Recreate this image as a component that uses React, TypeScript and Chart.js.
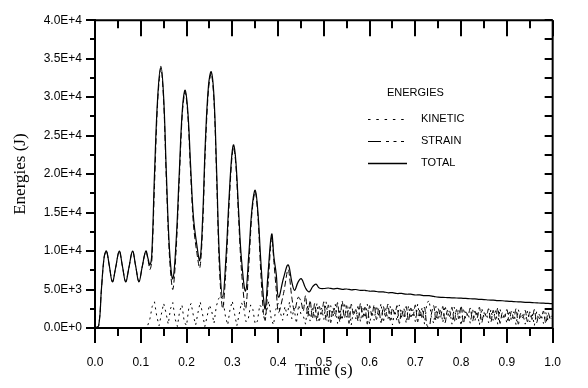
import React, { useEffect, useRef } from "react";
import { Chart, registerables } from "chart.js";

Chart.register(...registerables);

// ---------- data ----------
const TOTAL_T = [
  0.0, 0.008, 0.014, 0.02, 0.025, 0.031, 0.038, 0.045, 0.053, 0.06, 0.067, 0.074, 0.082, 0.089, 0.096,
  0.103, 0.111, 0.116, 0.12, 0.124, 0.13, 0.137, 0.144, 0.15, 0.156, 0.163, 0.17, 0.177, 0.184, 0.191,
  0.197, 0.203, 0.209, 0.215, 0.222, 0.229, 0.235, 0.241, 0.248, 0.254, 0.26, 0.266, 0.272, 0.279,
  0.286, 0.293, 0.299, 0.303, 0.308, 0.314, 0.32, 0.329, 0.336, 0.343, 0.35, 0.356, 0.362, 0.368,
  0.372, 0.378, 0.386, 0.391, 0.396, 0.401, 0.412, 0.422, 0.43, 0.436, 0.444, 0.451, 0.46, 0.468,
  0.476, 0.483, 0.49,
  0.5, 0.51, 0.52, 0.53, 0.54, 0.55, 0.56, 0.57, 0.58, 0.59, 0.6, 0.61, 0.62, 0.63, 0.64, 0.65, 0.66,
  0.67, 0.68, 0.69, 0.7, 0.71, 0.72, 0.73, 0.74, 0.75, 0.76, 0.77, 0.78, 0.79, 0.8, 0.81, 0.82, 0.83,
  0.84, 0.85, 0.86, 0.87, 0.88, 0.89, 0.9, 0.91, 0.92, 0.93, 0.94, 0.95, 0.96, 0.97, 0.98, 0.99, 1.0,
];
const TOTAL_E = [
  0, 300, 5000, 9200, 10000, 8200, 6000, 7800, 10000, 8000, 6000, 7800, 10000, 8000, 6000,
  7900, 10000, 9000, 8200, 9500, 20000, 30000, 34000, 30000, 20000, 10000, 6400, 11000, 20000, 28500,
  30900, 28000, 21000, 14500, 11000, 8800, 14000, 24000, 31500, 33300, 30000, 20000, 9000, 4000,
  9000, 17000, 22500, 23800, 21500, 15000, 9000, 4800, 9500, 15500, 17900, 15000, 9000, 4000,
  2500, 7000, 12200, 9200, 7000, 4000, 6500, 8200, 6000, 4900, 6000, 6400, 5200, 4700,
  5400, 5700, 5200,
  5130, 5200, 5080, 5150, 5020, 5070, 4960, 5000, 4880, 4900, 4780, 4800, 4690, 4700, 4580, 4600, 4480,
  4500, 4390, 4400, 4290, 4300, 4200, 4200, 4100, 4000, 3980, 3950, 3920, 3900, 3870, 3850, 3800, 3780,
  3720, 3700, 3640, 3620, 3560, 3540, 3480, 3460, 3410, 3390, 3340, 3320, 3280, 3250, 3220, 3190, 3160,
];

const STRAIN_T = [
  0.0, 0.008, 0.014, 0.02, 0.025, 0.031, 0.038, 0.045, 0.053, 0.06, 0.067, 0.074, 0.082, 0.089, 0.096,
  0.103, 0.111, 0.116, 0.12, 0.124, 0.13, 0.137, 0.144, 0.15, 0.156, 0.163, 0.17, 0.177, 0.184, 0.191,
  0.197, 0.203, 0.209, 0.215, 0.222, 0.229, 0.235, 0.241, 0.248, 0.254, 0.26, 0.266, 0.272, 0.279,
  0.286, 0.293, 0.299, 0.303, 0.308, 0.314, 0.32, 0.329, 0.336, 0.343, 0.35, 0.356, 0.362, 0.368,
  0.372, 0.378, 0.386, 0.391, 0.396, 0.401, 0.412, 0.422, 0.43, 0.436, 0.444, 0.45,
];
const STRAIN_E = [
  0, 300, 5000, 9200, 10000, 8200, 6000, 7800, 10000, 8000, 6000, 7800, 10000, 8000, 6000,
  7900, 10000, 8800, 7600, 8600, 18500, 29500, 33800, 29500, 19000, 9000, 5000, 9800, 19000, 28000,
  30700, 27500, 20000, 13500, 10000, 7800, 12800, 23000, 31000, 33100, 29500, 19000, 7500, 2500,
  7500, 16000, 22000, 23500, 21000, 14000, 7500, 2500, 8000, 15000, 17700, 14500, 7500, 2000,
  1000, 5500, 11800, 8500, 5000, 2000, 4500, 7600, 4000, 2200, 4000, 3500,
];
const STRAIN_TAIL_START = 0.455;
const STRAIN_TAIL_STEP = 0.005;
const STRAIN_TAIL = [
  2200, 4200, 1500, 3600, 1200, 3200, 900, 2800, 1800, 3400,
  1000, 3000, 700, 2600, 1500, 3300, 800, 3500, 1300, 2900,
  600, 3100, 1700, 2400, 900, 3200, 1400, 2700, 500, 2900,
  1600, 3000, 1100, 2500, 700, 2800, 1500, 3100, 1000, 2600,
  1800, 2900, 600, 2300, 1300, 2800, 900, 2600, 1600, 3000,
  800, 2400, 1200, 2700, 400, 0, 1800, 2900, 1000, 2500,
  1400, 2800, 700, 2300, 1500, 2700, 800, 2400, 1200, 2900,
  600, 2100, 1600, 2600, 900, 2200, 1300, 2700, 700, 2000,
  1500, 2500, 800, 2300, 1100, 2600, 600, 2000, 1400, 2400,
  900, 2200, 1200, 2500, 500, 1900, 1300, 2300, 800, 2100,
  1100, 2400, 700, 1800, 1300, 2200, 600, 2000, 1200, 1700,
];

const KINETIC_START = 0.0;
const KINETIC_STEP = 0.005;
const KINETIC_E = [
  0, 0, 0, 0, 0, 0, 0, 0, 0, 0,
  0, 0, 0, 0, 0, 0, 0, 0, 0, 0,
  0, 0, 50, 300, 1200, 2800, 3400, 1500, 300, 1800,
  3200, 2000, 500, 2500, 3300, 1200, 200, 2200, 3000, 800,
  300, 2600, 3200, 1600, 400, 2000, 3400, 1800, 200, 1500,
  3000, 2200, 600, 2800, 3800, 4200, 3600, 1500, 400, 2400,
  3500, 1800, 300, 1800, 3300, 2600, 800, 1200, 3000, 2400,
  500, 900, 3000, 2600, 1200, 2200, 3500, 1200, 400, 2400,
  3200, 2000, 1000, 2800, 1600, 3400, 1200, 2600, 600, 3000,
  1800,
  1600, 500, 3000, 900, 2800, 1200, 3200, 700, 2600, 1100,
  3400, 800, 2900, 1500, 3100, 600, 2500, 1000, 3300, 1400,
  2800, 400, 2400, 1200, 3000, 800, 2700, 1300, 3100, 500,
  2200, 1000, 2900, 1600, 3200, 700, 2500, 1100, 2800, 400,
  2300, 900, 3000, 1400, 2600, 600, 2900, 1200, 2400, 800,
  3100, 1300, 2700, 500, 3200, 3600, 1500, 600, 2800, 1000,
  2500, 700, 2900, 1400, 2300, 500, 2700, 1100, 2400, 300,
  2600, 1200, 2000, 600, 2500, 900, 2200, 400, 2600, 1300,
  2000, 700, 2400, 1000, 2300, 500, 2500, 1100, 1900, 600,
  2300, 900, 2100, 400, 2400, 1200, 1800, 500, 2200, 800,
  2000, 300, 2100, 1000, 1700, 600, 2000, 900, 1600, 1100,
];

const X_MIN = 0;
const X_MAX = 1;
const X_MAJOR = 0.1;
const X_MINOR = 0.05;
const Y_MIN = 0;
const Y_MAX = 40000;
const Y_MAJOR = 5000;
const Y_MINOR = 2500;

const X_TITLE = "Time (s)";
const Y_TITLE = "Energies (J)";
const LEGEND_TITLE = "ENERGIES";
const SERIES_NAMES = ["KINETIC", "STRAIN", "TOTAL"];

// ---------- helpers ----------
function sciLabel(v: number): string {
  if (Math.abs(v) < 1e-9) return "0.0E+0";
  const e = Math.floor(Math.log10(v) + 1e-9);
  const m = v / Math.pow(10, e);
  return `${m.toFixed(1)}E+${e}`;
}

const KIN_DASH = [2, 4];
const STRAIN_DASH = [6, 3];

const framePlugin = {
  id: "frame",
  afterDraw(chart: any) {
    const { ctx, chartArea, scales } = chart;
    const xs = scales.x;
    const ys = scales.y;
    const { left, right, top, bottom } = chartArea;
    ctx.save();
    ctx.strokeStyle = "#000";
    ctx.lineCap = "butt";
    // frame top & right
    ctx.lineWidth = 2;
    ctx.beginPath();
    ctx.moveTo(left, top);
    ctx.lineTo(right, top);
    ctx.moveTo(right, top);
    ctx.lineTo(right, bottom);
    ctx.stroke();
    // x ticks
    const nx = Math.round((X_MAX - X_MIN) / X_MINOR);
    for (let i = 0; i <= nx; i++) {
      const v = X_MIN + i * X_MINOR;
      const px = Math.round(xs.getPixelForValue(v));
      const major = i % 2 === 0;
      ctx.lineWidth = 2;
      ctx.beginPath();
      ctx.moveTo(px, bottom);
      ctx.lineTo(px, bottom + (major ? 15 : 8));
      ctx.moveTo(px, top);
      ctx.lineTo(px, top + (major ? 16 : 8));
      ctx.stroke();
    }
    // y ticks
    const ny = Math.round((Y_MAX - Y_MIN) / Y_MINOR);
    for (let i = 0; i <= ny; i++) {
      const v = Y_MIN + i * Y_MINOR;
      const py = Math.round(ys.getPixelForValue(v));
      const major = i % 2 === 0;
      ctx.lineWidth = 2;
      ctx.beginPath();
      ctx.moveTo(left, py);
      ctx.lineTo(left - (major ? 9 : 5), py);
      ctx.moveTo(right, py);
      ctx.lineTo(right - 8, py);
      ctx.stroke();
    }
    // legend
    const lx0 = 368;
    const lx1 = 407;
    const tx = 421;
    ctx.fillStyle = "#000";
    ctx.font = '11px "Liberation Sans", Arial, sans-serif';
    ctx.textBaseline = "middle";
    ctx.textAlign = "left";
    ctx.fillText(LEGEND_TITLE, 387, 93);
    const rows = [119, 141, 163];
    const dashes = [[2.5, 5.8], [13, 5, 3, 4.5, 3, 4.5, 3, 10], []];
    rows.forEach((y, i) => {
      ctx.lineWidth = i === 2 ? 1.3 : 1;
      ctx.setLineDash(dashes[i]);
      ctx.beginPath();
      ctx.moveTo(lx0, y + 0.5);
      ctx.lineTo(lx1, y + 0.5);
      ctx.stroke();
      ctx.setLineDash([]);
      ctx.fillText(SERIES_NAMES[i], tx, y);
    });
    ctx.restore();
  },
};

export default function App() {
  const ref = useRef<HTMLCanvasElement | null>(null);

  useEffect(() => {
    document.body.style.margin = "0";
    const canvas = ref.current;
    if (!canvas) return;

    const totalData = TOTAL_T.map((t, i) => ({ x: t, y: TOTAL_E[i] }));
    const strainData = STRAIN_T.map((t, i) => ({ x: t, y: STRAIN_E[i] })).concat(
      STRAIN_TAIL.map((v, i) => ({ x: STRAIN_TAIL_START + i * STRAIN_TAIL_STEP, y: v }))
    );
    const kineticData = KINETIC_E.map((v, i) => ({ x: KINETIC_START + i * KINETIC_STEP, y: v }));

    const chart = new Chart(canvas, {
      type: "line",
      data: {
        datasets: [
          {
            label: SERIES_NAMES[0],
            data: kineticData,
            borderColor: "#000",
            borderWidth: 1,
            borderDash: KIN_DASH,
            pointRadius: 0,
            tension: 0,
            fill: false,
          },
          {
            label: SERIES_NAMES[1],
            data: strainData,
            borderColor: "#000",
            borderWidth: 1,
            borderDash: STRAIN_DASH,
            pointRadius: 0,
            tension: 0.3,
            fill: false,
          },
          {
            label: SERIES_NAMES[2],
            data: totalData,
            borderColor: "#000",
            borderWidth: 1.2,
            pointRadius: 0,
            tension: 0.4,
            fill: false,
          },
        ],
      },
      options: {
        animation: false,
        responsive: false,
        maintainAspectRatio: false,
        layout: { padding: { top: 16, right: 27, left: 0, bottom: 0 } },
        plugins: {
          legend: { display: false },
          tooltip: { enabled: false },
          title: { display: false },
        },
        scales: {
          x: {
            type: "linear",
            min: X_MIN,
            max: X_MAX,
            afterFit: (s: any) => {
              s.height = 60;
            },
            ticks: {
              stepSize: X_MAJOR,
              autoSkip: false,
              maxRotation: 0,
              padding: 27,
              color: "#000",
              font: { family: '"Liberation Sans", Arial, sans-serif', size: 12 },
              callback: (v: any) => Number(v).toFixed(1),
            },
            grid: { display: false, drawTicks: false },
            border: { display: true, color: "#000", width: 2 },
            title: {
              display: true,
              text: X_TITLE,
              color: "#000",
              font: { family: '"Liberation Serif", "Times New Roman", serif', size: 17, weight: "normal" },
              padding: { top: 0, bottom: 7 },
            },
          },
          y: {
            type: "linear",
            min: Y_MIN,
            max: Y_MAX,
            afterFit: (s: any) => {
              s.width = 95;
            },
            ticks: {
              stepSize: Y_MAJOR,
              padding: 13,
              color: "#000",
              font: { family: '"Liberation Sans", Arial, sans-serif', size: 12 },
              callback: (v: any) => sciLabel(Number(v)),
            },
            grid: { display: false, drawTicks: false },
            border: { display: true, color: "#000", width: 2 },
            title: {
              display: true,
              text: Y_TITLE,
              color: "#000",
              font: { family: '"Liberation Serif", "Times New Roman", serif', size: 17, weight: "normal" },
              padding: { top: 10, bottom: 0 },
            },
          },
        },
      },
      plugins: [framePlugin],
    });

    return () => chart.destroy();
  }, []);

  return (
    <div style={{ width: 588, height: 388, overflow: "hidden", background: "#fff" }}>
      <canvas ref={ref} width={588} height={388} style={{ display: "block" }} />
    </div>
  );
}
